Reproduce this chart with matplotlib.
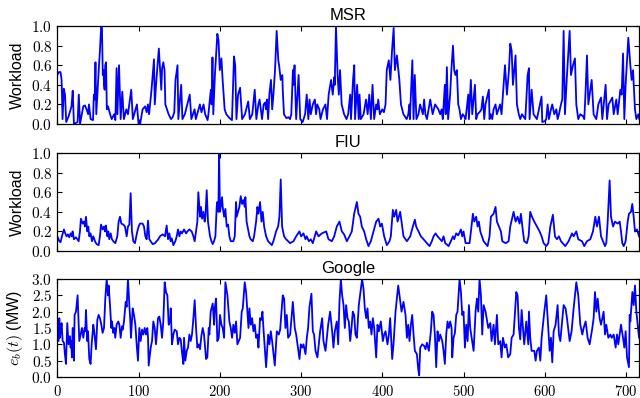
import matplotlib
matplotlib.use("Agg")
import matplotlib.pyplot as plt
from matplotlib.ticker import FormatStrFormatter, MultipleLocator

# MSR workload (normalised)
msr_t = [
    0, 2, 4, 5.3, 6.5, 8, 9.5, 11, 14, 17.5, 19, 20.5, 25, 26.5, 28, 32, 34, 36, 38, 39,
    41, 44, 45, 46, 47, 48, 51, 52.5, 54, 55, 56, 57, 57.5, 58.3, 59, 60, 61, 62.5, 65, 67,
    70, 71.5, 73, 74, 76, 78, 80, 82, 85, 87, 91, 93, 98, 100, 102, 105, 108, 110, 111.5, 113,
    116, 119, 120, 122, 125, 126.5, 128, 129, 130.5, 132, 133, 135, 137, 140, 142, 144, 145.5, 148, 149, 152.5,
    154, 157, 163, 165, 169, 170.5, 175.5, 177.5, 180, 182, 185, 186, 189, 190, 191, 192, 194, 197, 198.5, 200,
    202, 203.5, 206, 208, 212, 215, 217.5, 219, 220.5, 222.5, 225, 227.5, 231, 235, 237, 240, 243, 245, 247.5, 249,
    250.5, 252, 254, 256, 257, 258, 259.5, 261, 263, 264.5, 266, 268, 270, 272, 273, 275, 277, 277.5, 279, 282,
    284.5, 286.5, 288, 290, 290.7, 292, 294, 297, 299, 302, 305, 307, 309, 310.5, 312, 314.5, 317, 318.5, 320, 322.5,
    324, 327, 330, 332, 334, 337, 339, 341, 341.5, 343, 345, 346.5, 348, 350, 353, 356, 358, 360.5, 361.5, 364,
    365.5, 366.5, 369, 371, 372, 373.5, 377, 380, 382, 384, 386, 388, 390, 392.5, 394, 395, 397, 400, 402, 404,
    405.5, 408, 410, 412, 414, 415.5, 418, 420.5, 421, 423, 426, 430, 432, 433.5, 434, 437, 438.5, 440, 442, 444.5,
    446.5, 450, 451.5, 453, 455, 459, 462, 465, 469, 471.3, 473, 474.5, 477, 478, 479.5, 481, 483.5, 485, 487, 488.5,
    490, 491.8, 493.5, 495, 496.8, 499, 500.8, 502.5, 505.8, 506.6, 509, 510.7, 514, 515.6, 517.3, 520.6, 522, 523.8, 525.5, 527,
    531.2, 532, 533.7, 535.3, 537, 539.4, 541, 545, 546.8, 551, 553.4, 555.9, 557.5, 559.2, 560.8, 564, 565.7, 568, 569.8, 571.9,
    576, 578.9, 580.5, 581.3, 583.8, 586.2, 590.3, 592.8, 596, 596.9, 600.2, 601.8, 603.5, 605.1, 607.6, 609.2, 611.7, 614.2, 615.8, 617.4,
    619.9, 621.5, 623.2, 624.8, 627.3, 630.6, 632.2, 634.7, 637.1, 638.8, 641.2, 643.7, 647, 648.6, 650.3, 651.9, 653.6, 657.7, 660.1, 663.4,
    665.9, 669.2, 670.8, 674.9, 676.6, 678.6, 683.1, 684.8, 688, 689.7, 693, 694.6, 696.3, 697.9, 699.5, 702.8, 705.3, 706.9, 708.6, 711,
    712.7, 715.1, 716.4,
]
msr_load = [
    0.50, 0.53, 0.53, 0.45, 0.05, 0.36, 0.30, 0.02, 0.08, 0.18, 0.34, 0.00, 0.02, 0.30, 0.00, 0.18, 0.19, 0.15, 0.10, 0.20,
    0.05, 0.04, 0.30, 0.25, 0.63, 0.10, 0.55, 0.75, 1.00, 0.98, 0.50, 0.55, 0.40, 0.35, 0.60, 0.63, 0.15, 0.18, 0.10, 0.05,
    0.10, 0.04, 0.57, 0.10, 0.60, 0.05, 0.33, 0.05, 0.15, 0.10, 0.35, 0.05, 0.20, 0.00, 0.00, 0.15, 0.18, 0.12, 0.20, 0.10,
    0.35, 0.66, 0.20, 0.45, 0.77, 0.55, 0.35, 0.57, 0.63, 0.55, 0.20, 0.15, 0.10, 0.05, 0.07, 0.12, 0.45, 0.60, 0.05, 0.40,
    0.05, 0.10, 0.30, 0.05, 0.15, 0.05, 0.20, 0.12, 0.20, 0.10, 0.04, 0.10, 0.35, 0.20, 0.68, 0.10, 0.50, 0.92, 0.85, 0.55,
    0.67, 0.45, 0.15, 0.10, 0.06, 0.04, 0.69, 0.60, 0.05, 0.30, 0.37, 0.05, 0.10, 0.23, 0.05, 0.10, 0.35, 0.05, 0.20, 0.25,
    0.15, 0.05, 0.20, 0.22, 0.15, 0.25, 0.05, 0.30, 0.45, 0.15, 0.30, 0.55, 0.95, 0.65, 0.60, 0.45, 0.50, 0.35, 0.10, 0.06,
    0.07, 0.05, 0.10, 0.55, 0.40, 0.60, 0.05, 0.50, 0.05, 0.02, 0.10, 0.30, 0.05, 0.25, 0.10, 0.20, 0.25, 0.10, 0.20, 0.15,
    0.05, 0.15, 0.20, 0.05, 0.30, 0.45, 0.30, 0.48, 0.40, 1.00, 0.50, 0.30, 0.55, 0.20, 0.10, 0.05, 0.10, 0.30, 0.05, 0.45,
    0.60, 0.05, 0.40, 0.05, 0.30, 0.05, 0.10, 0.25, 0.10, 0.30, 0.05, 0.40, 0.05, 0.20, 0.15, 0.25, 0.10, 0.15, 0.12, 0.20,
    0.55, 0.65, 0.45, 0.75, 0.98, 0.55, 0.70, 0.50, 0.45, 0.20, 0.10, 0.05, 0.10, 0.20, 0.05, 0.65, 0.05, 0.50, 0.05, 0.10,
    0.20, 0.10, 0.25, 0.10, 0.05, 0.25, 0.10, 0.20, 0.15, 0.10, 0.15, 0.05, 0.40, 0.10, 0.58, 0.05, 0.30, 0.55, 0.80, 0.55,
    0.50, 0.55, 0.20, 0.15, 0.05, 0.10, 0.08, 0.05, 0.30, 0.05, 0.45, 0.10, 0.40, 0.05, 0.10, 0.13, 0.15, 0.28, 0.05, 0.20,
    0.35, 0.05, 0.10, 0.05, 0.15, 0.20, 0.10, 0.20, 0.10, 0.60, 0.30, 0.55, 0.82, 0.75, 0.40, 0.70, 0.20, 0.10, 0.05, 0.10,
    0.05, 0.50, 0.57, 0.05, 0.35, 0.10, 0.05, 0.15, 0.28, 0.02, 0.03, 0.05, 0.20, 0.05, 0.15, 0.20, 0.10, 0.15, 0.05, 0.10,
    0.20, 0.25, 0.95, 0.10, 0.50, 0.95, 0.50, 0.60, 0.67, 0.20, 0.05, 0.10, 0.08, 0.05, 0.35, 0.70, 0.20, 0.45, 0.10, 0.05,
    0.20, 0.27, 0.05, 0.40, 0.05, 0.20, 0.27, 0.10, 0.25, 0.10, 0.35, 0.30, 0.72, 0.05, 0.40, 0.88, 0.60, 0.45, 0.55, 0.15,
    0.05, 0.10, 0.05,
]

# FIU workload (normalised)
fiu_t = [
    0, 2.5, 4, 5.7, 7.4, 8.2, 9.8, 11.5, 13.1, 14.8, 16.4, 18, 18.9, 20.5, 23, 24.6, 26.3, 27.1, 27.9, 29.1,
    31.2, 32.8, 34, 35.3, 36.9, 38.2, 39.4, 41, 42.7, 44.3, 46.4, 48.4, 50.9, 52.5, 53.8, 55.8, 57.5, 58.7, 59.9, 61.6,
    62.8, 64, 65.7, 67.3, 68.9, 71.4, 73.9, 75.5, 77.2, 78.8, 81.3, 83.3, 85.4, 87, 88.7, 90.3, 91.9, 93.6, 95.6, 98.5,
    100.1, 101.8, 105, 106.7, 108.4, 110, 111.7, 113.3, 114.9, 117.4, 120.2, 122.3, 124.3, 126.4, 129.7, 132.6, 134.6, 136.3, 137.9, 139.5,
    140.8, 142.9, 145.3, 147, 148.6, 150.3, 151.9, 153.5, 156, 158.5, 160.1, 162.6, 165.4, 167.5, 169.1, 170.8, 172.4, 173.6, 174.9, 175.7,
    176.9, 178.2, 179.8, 181.4, 182.3, 183.9, 185.5, 187.2, 188, 189.7, 191.3, 192.9, 194.6, 196.2, 197, 198.3, 199.1, 200.3, 202.8, 203.6,
    205.3, 206.9, 208.5, 210.2, 211.8, 213.5, 216.7, 218.4, 220, 220.8, 222.5, 224.1, 225.8, 227.4, 229, 230.7, 231.5, 233, 236.5, 238,
    240.6, 242.2, 244.7, 246.3, 247.6, 249.6, 251.3, 252.9, 254.6, 257, 259.5, 264, 266, 269.3, 271.8, 273.4, 275, 276.7, 279.2, 281.6,
    286.6, 290.7, 294, 298, 300.1, 303, 305.5, 307, 309.6, 312, 314.5, 318.6, 321.5, 325.6, 331, 333.8, 337.9, 340.8, 344, 347.3,
    350.2, 353, 356.4, 359.6, 362.5, 365.4, 368.7, 370.7, 372.8, 374.8, 377.7, 380.2, 383, 385.9, 389.2, 392.5, 395.4, 397.4, 399.5, 402.3,
    405.6, 408.9, 410.5, 413, 414.7, 417.1, 418.8, 420.4, 422, 423.7, 426.1, 430.3, 434.4, 437.6, 440.1, 441.7, 444.6, 447.5, 450.8, 454.9,
    458.2, 461, 463.1, 465.6, 468, 471.3, 473.4, 475.4, 477.5, 481.6, 484.4, 486.9, 488.5, 491, 493.5, 496.8, 498.4, 500, 502.5, 507.4,
    509.1, 511.5, 513.2, 515.6, 517.3, 518.9, 520.6, 522.6, 524.7, 529.6, 532, 533.7, 537, 539.4, 541.1, 543.5, 546, 547.7, 551.8, 555.5,
    557.5, 561.6, 564.1, 566.5, 569, 570.6, 573.1, 574.7, 578, 580.1, 582.1, 584.2, 587.1, 590.3, 593.6, 596.1, 598.6, 601.8, 604.3, 606.8,
    610, 612.5, 615, 617.4, 619.9, 625.2, 629.3, 633.5, 635.5, 638.8, 641.2, 645.8, 648.6, 651.9, 656, 659.3, 662.2, 664.2, 666.7, 669.2,
    671.6, 674.1, 675.7, 677.4, 679.8, 681.5, 684, 686.4, 689.7, 692.2, 693.8, 695.4, 697.1, 699.5, 702, 703.6, 706.1, 707.7, 709.4, 711,
    713.5, 716,
]
fiu_load = [
    0.15, 0.10, 0.09, 0.15, 0.20, 0.22, 0.18, 0.15, 0.17, 0.14, 0.18, 0.15, 0.20, 0.12, 0.14, 0.12, 0.10, 0.15, 0.20, 0.33,
    0.28, 0.30, 0.25, 0.35, 0.20, 0.25, 0.15, 0.18, 0.10, 0.15, 0.10, 0.07, 0.06, 0.15, 0.27, 0.22, 0.25, 0.20, 0.26, 0.15,
    0.20, 0.12, 0.18, 0.12, 0.10, 0.08, 0.15, 0.30, 0.35, 0.28, 0.27, 0.25, 0.15, 0.25, 0.27, 0.59, 0.20, 0.10, 0.08, 0.20,
    0.25, 0.28, 0.28, 0.25, 0.15, 0.12, 0.31, 0.12, 0.10, 0.07, 0.08, 0.10, 0.12, 0.15, 0.17, 0.15, 0.26, 0.12, 0.18, 0.10,
    0.13, 0.06, 0.10, 0.15, 0.22, 0.15, 0.20, 0.18, 0.22, 0.18, 0.20, 0.22, 0.20, 0.15, 0.10, 0.20, 0.30, 0.60, 0.45, 0.35,
    0.45, 0.33, 0.40, 0.30, 0.35, 0.62, 0.30, 0.20, 0.15, 0.10, 0.07, 0.10, 0.15, 0.45, 0.50, 0.40, 1.00, 0.40, 0.55, 0.45,
    0.35, 0.43, 0.25, 0.27, 0.15, 0.10, 0.10, 0.15, 0.50, 0.35, 0.40, 0.45, 0.56, 0.48, 0.52, 0.45, 0.55, 0.30, 0.15, 0.12,
    0.10, 0.15, 0.30, 0.45, 0.38, 0.50, 0.30, 0.40, 0.25, 0.15, 0.10, 0.06, 0.10, 0.20, 0.25, 0.35, 0.73, 0.25, 0.15, 0.12,
    0.08, 0.10, 0.15, 0.20, 0.15, 0.18, 0.12, 0.15, 0.10, 0.12, 0.08, 0.20, 0.15, 0.18, 0.20, 0.12, 0.10, 0.15, 0.25, 0.30,
    0.20, 0.17, 0.10, 0.15, 0.20, 0.38, 0.50, 0.38, 0.35, 0.25, 0.20, 0.12, 0.05, 0.10, 0.20, 0.30, 0.33, 0.25, 0.28, 0.15,
    0.06, 0.10, 0.15, 0.42, 0.35, 0.42, 0.30, 0.35, 0.40, 0.30, 0.15, 0.10, 0.15, 0.25, 0.32, 0.25, 0.20, 0.15, 0.12, 0.08,
    0.05, 0.10, 0.15, 0.18, 0.15, 0.12, 0.10, 0.15, 0.08, 0.05, 0.10, 0.15, 0.12, 0.18, 0.16, 0.22, 0.15, 0.20, 0.08, 0.08,
    0.20, 0.38, 0.30, 0.35, 0.25, 0.30, 0.20, 0.15, 0.10, 0.05, 0.15, 0.35, 0.38, 0.45, 0.30, 0.25, 0.20, 0.10, 0.08, 0.10,
    0.25, 0.40, 0.30, 0.35, 0.28, 0.38, 0.20, 0.10, 0.08, 0.15, 0.40, 0.35, 0.30, 0.25, 0.20, 0.15, 0.08, 0.05, 0.08, 0.25,
    0.37, 0.15, 0.12, 0.15, 0.10, 0.05, 0.10, 0.18, 0.15, 0.20, 0.12, 0.10, 0.05, 0.10, 0.12, 0.20, 0.35, 0.25, 0.35, 0.15,
    0.10, 0.05, 0.08, 0.30, 0.72, 0.35, 0.25, 0.30, 0.28, 0.30, 0.20, 0.08, 0.05, 0.10, 0.30, 0.38, 0.40, 0.48, 0.35, 0.20,
    0.22, 0.15,
]

# Google power e_b(t) in MW
google_t = [
    0, 1.6, 2.5, 3.3, 4.1, 5.3, 6.6, 8.2, 9.4, 10.7, 12.3, 13.9, 15.6, 16.4, 17.2, 18, 18.9, 20.5, 21.3, 23,
    25, 27.1, 28.7, 30.4, 32, 33.7, 34.5, 35.3, 36.9, 37.8, 39.4, 41, 42.3, 44.3, 45.2, 47.6, 49.3, 50.9, 52.5, 54.2,
    55.8, 57.5, 59.1, 60.8, 62.4, 63.2, 64.9, 66.5, 67.3, 69, 70.2, 71.4, 73, 75.1, 76.4, 78, 79.6, 80.5, 82.1, 84.2,
    85.4, 87, 88.7, 89.9, 90.7, 92.8, 94.4, 96.1, 97.7, 99.3, 101, 102.6, 104.3, 105.9, 107.6, 109.2, 110.8, 111.7, 112.5, 115,
    116.6, 118.2, 119.9, 121.5, 124, 125.6, 127.3, 128.9, 130.5, 132.2, 133.8, 135.5, 137.1, 138.8, 139.6, 141.2, 142.9, 144.5, 147, 148.6,
    150.3, 151.9, 153.5, 155.2, 156, 157.6, 159.3, 160.9, 162.6, 164.2, 165.8, 167.5, 169.1, 170.8, 172.4, 174.1, 175.7, 177.3, 179, 180.6,
    183.1, 184.7, 186.4, 187.2, 188.8, 191.3, 193, 193.8, 195.4, 197, 198.7, 200.3, 202, 203.6, 205.3, 206.1, 206.9, 209.4, 211.8, 213.5,
    215.1, 216.7, 218.4, 220, 221.7, 223.3, 225, 227, 228.3, 230.7, 232.4, 234, 235.3, 236.5, 238.1, 239.8, 241.4, 243.1, 244.7, 246.3,
    247.6, 249.6, 251.3, 252.5, 253.7, 257, 259.5, 261.1, 262.8, 264.4, 267.7, 270.2, 272.6, 274.3, 277.5, 279.2, 280.8, 282.5, 284.1, 286.6,
    289.9, 292.3, 294, 295.6, 298.1, 299.7, 301.4, 303, 305.5, 307.1, 308.7, 310.4, 312.8, 314.5, 316.1, 317.8, 320.2, 321.9, 323.5, 326,
    327.6, 330.1, 333.4, 335.8, 338.3, 339.9, 341.6, 344, 345.7, 347.3, 349, 350.6, 352.3, 353.9, 355.5, 357.2, 358.8, 360.5, 362.1, 363.7,
    365.4, 367, 368.7, 371.1, 375.2, 376.9, 378.5, 380.2, 381.8, 383.4, 385.1, 386.7, 388.4, 390, 392.5, 394.1, 395.8, 398.2, 400.7, 402.3,
    404, 406.4, 408.1, 409.7, 412.2, 413.8, 416.3, 419.6, 421.2, 423.7, 426.1, 428.6, 430.3, 431.9, 433.5, 435.2, 436.8, 438.5, 440.1, 442.6,
    444.2, 445.4, 446.7, 449.1, 451.6, 453.2, 454.9, 457.3, 459.8, 461.4, 463.1, 464.7, 466.4, 468, 469.7, 471.3, 473.8, 475.4, 477, 478.7,
    480.3, 482, 483.6, 485.3, 486.1, 487.7, 489.4, 491, 492.6, 495.1, 496.8, 498.4, 500, 501.7, 503.3, 505, 506.6, 508.2, 512.4, 514.8,
    516.5, 518.1, 519.7, 521.4, 523, 524.7, 527.1, 530.4, 532.9, 534.5, 537, 538.6, 541.1, 542.7, 545.2, 546.8, 548.5, 550.9, 552.6, 555,
    557.5, 559.2, 561.6, 564.9, 566.5, 568.2, 569.8, 571.5, 573.1, 574.7, 577.2, 579.7, 580.5, 582.1, 583.8, 587.1, 588.7, 590.3, 592.8, 594.5,
    596.1, 599.4, 601.8, 604.3, 606, 607.6, 609.2, 610.9, 613.3, 615.8, 617.4, 619.1, 623.2, 625.6, 627.3, 630.6, 633, 635.5, 638.8, 641.2,
    643.7, 646.2, 647.8, 650.3, 652.7, 655.2, 658.5, 660.1, 661.8, 663.4, 665.1, 667.5, 669.2, 672.4, 674.1, 675.7, 678.2, 680.7, 682.3, 684.8,
    687.2, 688.9, 690.5, 693.8, 696.3, 697.9, 699.5, 701.2, 703.6, 704.5, 705.3, 707.8, 709.4, 711, 712.7, 714.3, 716, 717.6,
]
google_mw = [
    1.70, 1.10, 1.80, 1.20, 1.40, 1.65, 1.10, 1.05, 0.70, 0.40, 1.65, 1.00, 1.25, 0.90, 1.10, 0.60, 1.50, 0.50, 1.90, 2.00,
    2.50, 1.10, 1.30, 1.50, 1.20, 1.50, 1.40, 2.05, 1.10, 1.40, 0.55, 0.40, 1.00, 1.60, 1.45, 0.85, 1.75, 1.90, 1.80, 1.60,
    1.35, 1.50, 2.40, 3.00, 2.50, 2.80, 2.20, 1.50, 1.70, 1.35, 1.50, 1.20, 1.60, 1.70, 1.60, 1.20, 1.55, 1.45, 1.70, 2.30,
    2.15, 3.00, 2.20, 1.70, 1.20, 2.10, 1.90, 1.60, 1.00, 0.50, 1.50, 1.10, 1.45, 1.30, 1.50, 1.30, 1.50, 1.20, 0.35, 0.90,
    1.10, 1.70, 1.50, 1.00, 1.80, 1.85, 1.60, 1.20, 1.70, 2.90, 2.60, 2.50, 1.60, 1.70, 2.10, 1.00, 1.30, 1.45, 1.40, 1.00,
    1.20, 1.15, 0.75, 0.40, 1.20, 0.50, 0.80, 0.90, 1.30, 1.10, 1.30, 1.80, 2.35, 1.50, 0.90, 1.00, 0.85, 1.25, 1.50, 1.30,
    0.55, 0.60, 1.50, 1.30, 2.00, 2.25, 1.60, 2.10, 2.40, 1.10, 1.20, 1.90, 1.60, 1.50, 1.20, 2.20, 2.90, 2.50, 1.70, 1.50,
    1.20, 1.60, 1.35, 1.70, 1.00, 1.10, 1.20, 2.00, 2.10, 2.90, 2.60, 2.00, 1.50, 2.10, 1.60, 1.80, 1.40, 1.60, 1.20, 1.30,
    0.90, 1.80, 1.75, 2.00, 1.50, 0.30, 1.30, 1.00, 1.40, 1.10, 0.35, 1.40, 1.30, 1.45, 2.50, 2.40, 1.50, 1.90, 1.20, 1.30,
    2.30, 1.50, 1.30, 1.00, 0.55, 1.00, 0.90, 1.00, 0.70, 1.20, 1.50, 2.15, 2.55, 1.40, 1.30, 0.80, 0.60, 1.00, 1.40, 1.80,
    1.10, 0.80, 1.60, 2.00, 1.40, 0.90, 1.40, 1.70, 1.00, 2.30, 3.00, 2.50, 2.20, 1.50, 2.20, 1.80, 1.70, 1.10, 1.50, 2.00,
    1.90, 1.30, 1.20, 2.20, 3.00, 2.70, 2.10, 1.80, 2.10, 1.50, 1.70, 1.30, 1.80, 1.50, 0.60, 1.60, 1.40, 1.70, 1.10, 1.30,
    1.40, 1.00, 1.30, 1.80, 0.55, 1.00, 2.00, 2.80, 2.50, 2.00, 2.30, 1.90, 1.20, 1.60, 1.10, 1.60, 1.90, 1.30, 0.80, 0.70,
    0.25, 0.05, 0.90, 1.00, 0.95, 0.85, 1.05, 0.80, 1.40, 2.00, 1.90, 1.30, 0.30, 1.40, 1.10, 1.30, 1.10, 0.80, 0.40, 1.30,
    1.70, 1.50, 1.70, 1.50, 0.60, 1.20, 1.35, 1.90, 2.00, 3.00, 2.60, 1.90, 2.00, 0.90, 1.60, 1.10, 2.20, 1.50, 0.80, 2.00,
    2.40, 2.00, 3.00, 2.50, 1.30, 2.20, 2.00, 1.50, 1.65, 1.10, 1.60, 1.00, 1.90, 1.00, 1.10, 0.60, 1.20, 0.90, 1.00, 0.60,
    0.70, 1.20, 1.30, 2.60, 2.50, 1.50, 1.15, 2.05, 1.50, 1.00, 1.70, 1.00, 2.00, 1.20, 0.80, 0.80, 0.50, 0.80, 0.90, 0.50,
    1.20, 2.00, 2.50, 1.50, 0.80, 1.20, 0.45, 1.40, 1.60, 2.20, 1.30, 1.10, 2.20, 2.10, 1.80, 1.10, 1.40, 2.10, 2.90, 2.50,
    1.60, 1.30, 1.50, 1.70, 1.20, 1.00, 1.50, 1.80, 2.60, 2.00, 2.40, 1.80, 1.60, 2.00, 1.30, 1.60, 1.20, 1.30, 1.20, 1.30,
    0.90, 1.30, 1.00, 1.60, 1.20, 0.90, 1.40, 0.60, 0.30, 1.90, 1.70, 2.60, 2.20, 2.80, 2.00, 1.60, 1.20, 1.90,
]

titles = ["MSR", "FIU", "Google"]
ylabels = ["Workload", "Workload", r"$e_b(t)$ (MW)"]

FIG_SIZE = (6.4, 3.98)
X_MAX = 716
LEFT, WIDTH, HEIGHT = 0.0895, 0.909, 0.2462
BOTTOMS = [0.6884, 0.3693, 0.0528]


def main() -> int:
    plt.rcParams["font.family"] = ["Liberation Sans", "DejaVu Sans"]
    plt.rcParams["mathtext.fontset"] = "cm"

    fig = plt.figure(figsize=FIG_SIZE, dpi=100)
    series = [(msr_t, msr_load), (fiu_t, fiu_load), (google_t, google_mw)]

    for i, (t, y) in enumerate(series):
        ax = fig.add_axes([LEFT, BOTTOMS[i], WIDTH, HEIGHT])
        ax.plot(t, y, color="#0000ff", linewidth=1.3)
        ax.set_xlim(0, X_MAX)
        ax.xaxis.set_major_locator(MultipleLocator(100))

        if i < 2:
            ax.set_ylim(0, 1.0)
            ax.yaxis.set_major_locator(MultipleLocator(0.2))
            ax.tick_params(axis="x", labelbottom=False)
        else:
            ax.set_ylim(0, 3.0)
            ax.yaxis.set_major_locator(MultipleLocator(0.5))
            ax.xaxis.set_major_formatter(FormatStrFormatter("$%d$"))
        ax.yaxis.set_major_formatter(FormatStrFormatter("$%.1f$"))

        ax.tick_params(direction="in", top=True, right=True, length=3.5,
                       width=0.8)
        ax.tick_params(axis="y", labelsize=11)
        ax.tick_params(axis="x", labelsize=10.5, pad=5)
        for sp in ax.spines.values():
            sp.set_linewidth(0.9)

        ax.set_title(titles[i], fontsize=12, pad=4)
        ax.set_ylabel(ylabels[i], fontsize=11.5)
        ax.yaxis.set_label_coords(-0.056, 0.5)

    fig.savefig("out.png", dpi=100)
    return 0


if __name__ == "__main__":
    raise SystemExit(main())
